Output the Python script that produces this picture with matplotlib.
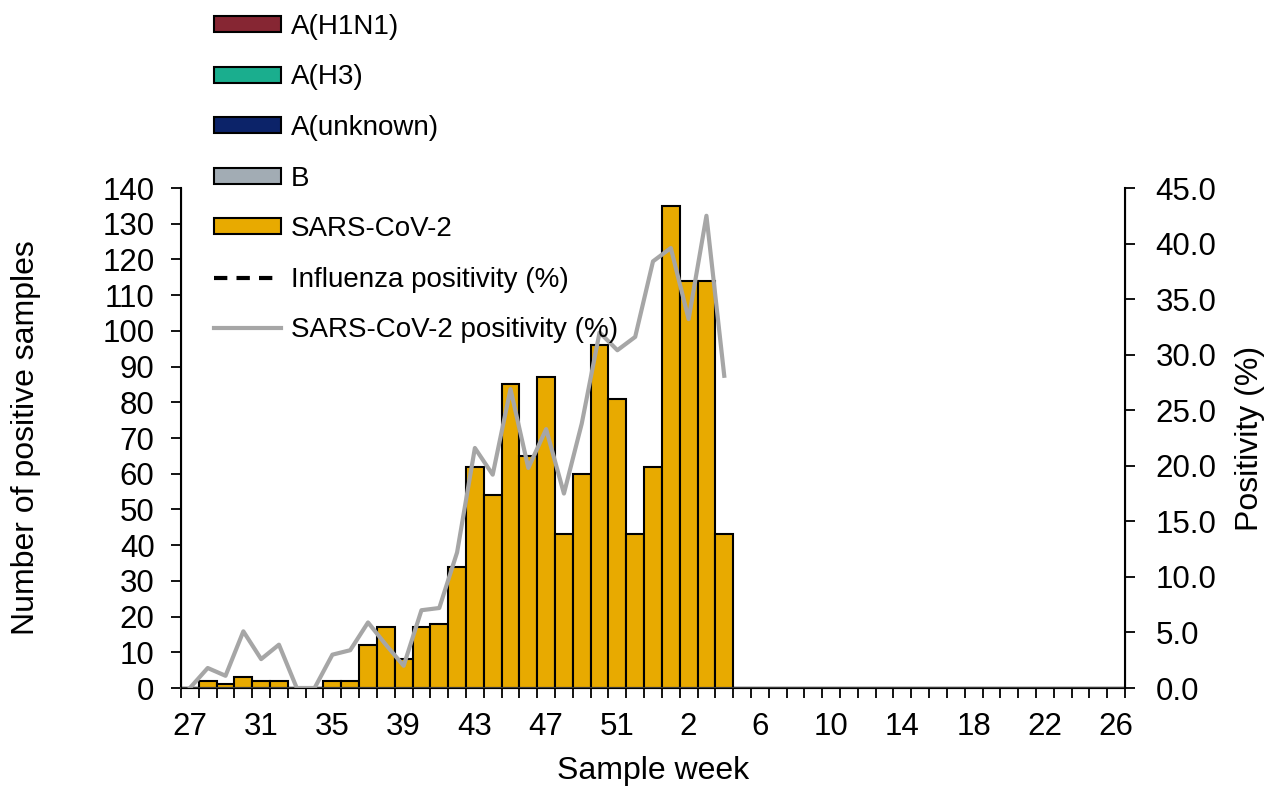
import matplotlib
matplotlib.use('Agg')
import matplotlib.pyplot as plt
import numpy as np

plt.rcParams['font.family'] = ['Liberation Sans', 'DejaVu Sans']
plt.rcParams['font.size'] = 23

# sample weeks 27..53 then 1..26
weeks = list(range(27, 54)) + list(range(1, 27))

h1n1 = [0] * 53
h3 = [0] * 53
a_unknown = [0] * 53
flu_b = [0] * 53
sars = [0, 2, 1, 3, 2, 2, 0, 0, 2, 2, 12, 17, 8, 17, 18, 34, 62, 54, 85, 65,
        87, 43, 60, 96, 81, 43, 62, 135, 114, 114, 43] + [0] * 22

flu_pos = [np.nan] * 53
sars_pos = [0.0, 1.8, 1.1, 5.1, 2.6, 3.9, 0.0, 0.0, 3.0, 3.4, 5.9, 3.9, 2.0, 7.0, 7.2,
            12.2, 21.6, 19.2, 26.9, 19.8, 23.3, 17.5, 23.8, 32.0, 30.4, 31.6, 38.4,
            39.6, 33.2, 42.5, 28.1] + [np.nan] * 22

colors = {
    'A(H1N1)': '#862633',
    'A(H3)': '#1AAE8E',
    'A(unknown)': '#0C2369',
    'B': '#A2ACB4',
    'SARS-CoV-2': '#E8AA00',
}

fig = plt.figure(figsize=(12.67, 7.87), dpi=100)
ax = fig.add_axes([181 / 1267, 1 - 688 / 787, 944 / 1267, 500 / 787])
x = np.arange(len(weeks))

handles = []
bottom = np.zeros(len(weeks))
for name, vals in [('A(H1N1)', h1n1), ('A(H3)', h3), ('A(unknown)', a_unknown),
                   ('B', flu_b), ('SARS-CoV-2', sars)]:
    vals = np.array(vals, dtype=float)
    b = ax.bar(x, vals, width=1.0, bottom=bottom, color=colors[name],
               edgecolor='black', linewidth=1.5, label=name, zorder=1)
    handles.append(b)
    bottom += vals

ax.set_xlim(-0.5, len(weeks) - 0.5)
ax.set_ylim(0, 140)
ax.set_yticks(np.arange(0, 141, 10))
ax.set_xticks(x[::4])
ax.set_xticklabels([str(w) for w in weeks[::4]])
ax.set_xticks(np.arange(-0.5, len(weeks), 1), minor=True)
ax.tick_params(axis='x', which='major', length=0, pad=17, labelsize=22.5)
ax.tick_params(axis='x', which='minor', length=7, width=1.3, direction='out')
ax.tick_params(axis='y', length=7, width=1.3, pad=12, labelsize=22.5)
ax.spines['top'].set_visible(False)
ax.spines['left'].set_linewidth(1.5)
ax.spines['bottom'].set_linewidth(1.5)
ax.spines['bottom'].set_color('#404040')
ax.set_xlabel('Sample week', labelpad=10)
ax.set_ylabel('Number of positive samples')
ax.yaxis.set_label_coords(-0.148, 0.5)

ax2 = ax.twinx()
l1, = ax2.plot(x, flu_pos, color='black', linestyle=(0, (3.2, 2.2)), linewidth=3,
               label='Influenza positivity (%)')
l2, = ax2.plot(x, sars_pos, color='#A6A6A6', linewidth=3,
               label='SARS-CoV-2 positivity (%)')
ax2.set_ylim(0, 45)
ax2.set_yticks(np.arange(0, 45.1, 5))
ax2.set_yticklabels([f'{v:.1f}' for v in np.arange(0, 45.1, 5)])
ax2.tick_params(axis='y', length=7, width=1.3, pad=15, labelsize=22.5)
ax2.spines['top'].set_visible(False)
ax2.spines['right'].set_linewidth(1.5)
ax2.set_ylabel('Positivity (%)', rotation=90, labelpad=13)

fig.legend(handles + [l1, l2], [h.get_label() for h in handles] + [l1.get_label(), l2.get_label()],
           loc='upper left', bbox_to_anchor=(200 / 1267, 1.0),
           frameon=False, borderpad=0, handlelength=2.41, handleheight=0.5,
           handletextpad=0.36, labelspacing=0.885, fontsize=20)

fig.savefig('out.png', dpi=100)
